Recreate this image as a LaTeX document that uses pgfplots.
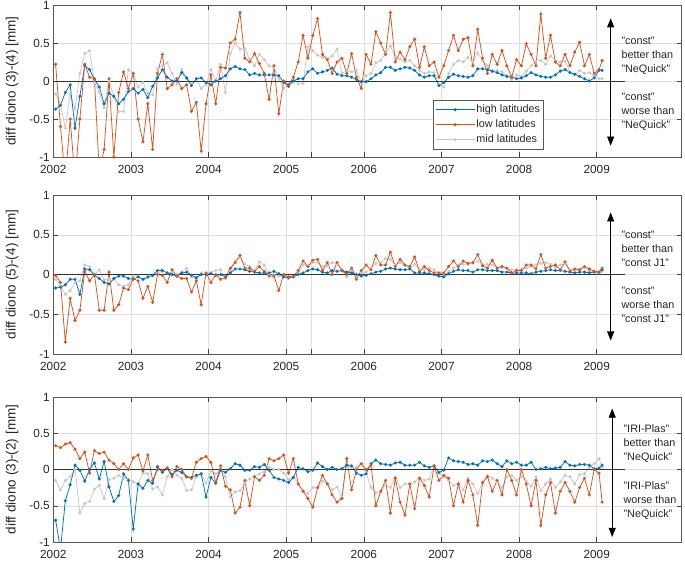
\documentclass[border=0pt]{standalone}
\usepackage{fontspec}
\setmainfont{Liberation Sans}
\usepackage{pgfplots}
\pgfplotsset{compat=1.18}
\usepackage{pgfplotstable}
\usetikzlibrary{arrows.meta}
\definecolor{mblue}{RGB}{0,114,189}
\definecolor{morange}{RGB}{217,83,25}
\definecolor{mgray}{RGB}{200,200,200}
\newcommand{\tickfont}{\fontsize{11.8}{14}\selectfont}
\newcommand{\labfont}{\fontsize{13.5}{16}\selectfont}
\newcommand{\annfont}{\fontsize{10.8}{14}\selectfont}
\newcommand{\legfont}{\fontsize{10.8}{13}\selectfont}

\pgfplotstableread{
x h l m
2002.0300 -0.37 0.22 -0.17
2002.0925 -0.32 -0.6 -0.3
2002.1550 -0.15 -1.3 -0.62
2002.2175 -0.05 -0.5 -0.17
2002.2800 -0.62 -1.3 -0.37
2002.3425 -0.2 -0.5 0.1
2002.4050 0.2 0.22 0.36
2002.4675 0.15 0.05 0.4
2002.5300 0.02 0.03 -0.02
2002.5925 -0.08 -1.2 -0.15
2002.6550 -0.3 -0.9 -0.35
2002.7175 -0.16 0.03 0.0
2002.7800 -0.2 -1.0 -0.2
2002.8425 -0.3 -0.15 -0.4
2002.9050 -0.24 0.12 -0.4
2002.9675 -0.14 -0.1 0.15
2003.0300 -0.1 0.1 0.1
2003.0925 -0.16 -0.5 -0.08
2003.1550 -0.11 -0.8 -0.02
2003.2175 -0.22 -0.3 -0.16
2003.2800 -0.07 -0.9 -0.18
2003.3425 0.04 0.1 0.16
2003.4050 0.15 0.35 0.2
2003.4675 0.05 -0.1 0.24
2003.5300 0.0 -0.05 0.1
2003.5925 0.0 0.03 -0.04
2003.6550 0.11 -0.1 0.15
2003.7175 0.04 -0.05 0.05
2003.7800 -0.06 -0.4 -0.04
2003.8425 0.03 -0.28 0.03
2003.9050 0.04 -0.92 -0.1
2003.9675 -0.02 -0.3 -0.05
2004.0300 -0.05 0.08 0.15
2004.0925 0.0 -0.3 0.0
2004.1550 0.03 0.18 0.22
2004.2175 0.07 0.17 -0.15
2004.2800 0.16 0.5 0.36
2004.3425 0.19 0.55 0.5
2004.4050 0.16 0.9 0.42
2004.4675 0.15 0.3 0.43
2004.5300 0.08 0.25 0.29
2004.5925 0.1 0.36 0.2
2004.6550 0.08 0.23 0.35
2004.7175 0.08 0.1 0.28
2004.7800 0.08 -0.24 0.2
2004.8425 0.08 0.2 0.17
2004.9050 0.07 -0.43 0.03
2004.9675 -0.02 0.0 -0.1
2005.0300 -0.07 -0.05 -0.05
2005.0925 0.0 0.05 0.03
2005.1550 0.03 0.25 -0.04
2005.2175 0.03 0.6 -0.03
2005.2800 0.12 0.3 0.45
2005.3425 0.16 0.6 0.4
2005.4050 0.1 0.82 0.34
2005.4675 0.12 0.35 0.31
2005.5300 0.14 0.28 0.29
2005.5925 0.17 0.1 0.33
2005.6550 0.09 0.25 0.42
2005.7175 0.07 0.3 0.1
2005.7800 0.07 0.1 0.14
2005.8425 0.05 0.36 0.12
2005.9050 0.02 0.05 0.14
2005.9675 -0.01 -0.1 -0.02
2006.0300 -0.01 0.35 0.07
2006.0925 0.03 0.22 0.1
2006.1550 0.08 0.65 0.24
2006.2175 0.11 0.5 0.27
2006.2800 0.18 0.35 0.36
2006.3425 0.18 0.9 0.46
2006.4050 0.14 0.25 0.32
2006.4675 0.16 0.38 0.29
2006.5300 0.18 0.28 0.25
2006.5925 0.17 0.45 0.27
2006.6550 0.14 0.55 0.2
2006.7175 0.08 0.18 0.14
2006.7800 0.05 0.45 0.1
2006.8425 0.07 0.2 0.12
2006.9050 0.07 0.25 0.11
2006.9675 -0.06 0.05 -0.05
2007.0300 -0.02 0.2 -0.08
2007.0925 0.05 0.4 0.1
2007.1550 0.09 0.6 0.22
2007.2175 0.07 0.4 0.27
2007.2800 0.06 0.55 0.25
2007.3425 0.05 0.57 0.31
2007.4050 0.07 0.2 0.25
2007.4675 0.16 0.68 0.37
2007.5300 0.16 0.3 0.27
2007.5925 0.15 0.1 0.2
2007.6550 0.13 0.35 0.12
2007.7175 0.11 0.22 0.14
2007.7800 0.08 0.4 0.12
2007.8425 0.06 0.2 0.07
2007.9050 0.05 0.05 0.02
2007.9675 0.03 0.28 0.08
2008.0300 0.04 0.2 0.06
2008.0925 0.07 0.49 0.13
2008.1550 0.11 0.35 0.2
2008.2175 0.08 0.2 0.26
2008.2800 0.06 0.88 0.27
2008.3425 0.05 0.3 0.22
2008.4050 0.05 0.6 0.33
2008.4675 0.08 0.25 0.27
2008.5300 0.13 0.2 0.25
2008.5925 0.15 0.35 0.26
2008.6550 0.11 0.2 0.12
2008.7175 0.09 0.38 0.08
2008.7800 0.06 0.51 0.14
2008.8425 0.03 0.2 0.1
2008.9050 0.0 0.35 0.11
2008.9675 0.04 0.1 0.06
2009.0300 0.14 0.15 0.03
2009.0700 0.14 0.27 0.03
}\tabA

\pgfplotstableread{
x h l m
2002.0300 -0.17 -0.01 -0.06
2002.0925 -0.16 -0.1 -0.14
2002.1550 -0.13 -0.85 -0.25
2002.2175 -0.06 -0.3 -0.2
2002.2800 -0.06 -0.58 -0.1
2002.3425 -0.25 -0.45 -0.08
2002.4050 0.07 0.04 0.12
2002.4675 0.06 -0.08 0.1
2002.5300 -0.01 0.0 0.0
2002.5925 -0.05 -0.45 0.06
2002.6550 -0.1 -0.45 -0.07
2002.7175 -0.12 0.03 -0.05
2002.7800 -0.05 -0.45 -0.06
2002.8425 -0.02 -0.38 -0.13
2002.9050 -0.02 -0.17 -0.15
2002.9675 -0.05 -0.19 -0.13
2003.0300 -0.06 -0.05 -0.02
2003.0925 -0.03 -0.08 -0.02
2003.1550 -0.06 -0.3 -0.07
2003.2175 -0.03 -0.15 -0.04
2003.2800 -0.01 -0.35 -0.02
2003.3425 0.05 0.0 0.02
2003.4050 0.05 -0.01 0.04
2003.4675 0.02 -0.1 0.02
2003.5300 0.0 0.06 0.03
2003.5925 -0.02 -0.02 0.0
2003.6550 0.02 -0.05 0.03
2003.7175 0.03 -0.05 0.08
2003.7800 -0.01 -0.22 -0.03
2003.8425 -0.04 -0.08 -0.06
2003.9050 0.0 -0.38 0.02
2003.9675 0.0 0.02 0.0
2004.0300 0.01 -0.1 0.03
2004.0925 -0.01 0.0 0.05
2004.1550 0.0 -0.06 0.06
2004.2175 -0.03 -0.04 -0.05
2004.2800 0.02 0.08 0.02
2004.3425 0.07 0.15 0.17
2004.4050 0.07 0.24 0.21
2004.4675 0.06 0.08 0.13
2004.5300 0.04 0.08 0.1
2004.5925 0.03 0.04 0.04
2004.6550 0.02 0.1 0.16
2004.7175 0.02 0.04 0.12
2004.7800 0.02 -0.02 0.0
2004.8425 0.04 -0.02 0.0
2004.9050 0.01 -0.2 -0.02
2004.9675 -0.03 0.0 0.0
2005.0300 -0.04 -0.03 -0.05
2005.0925 -0.03 -0.02 -0.03
2005.1550 0.0 0.05 0.03
2005.2175 0.02 0.17 0.12
2005.2800 0.05 0.1 0.11
2005.3425 0.07 0.18 0.15
2005.4050 0.06 0.19 0.15
2005.4675 0.03 0.05 0.1
2005.5300 0.02 0.15 0.11
2005.5925 0.05 0.0 0.15
2005.6550 0.04 0.15 0.13
2005.7175 0.05 0.05 0.06
2005.7800 0.03 0.0 -0.03
2005.8425 0.02 0.08 0.07
2005.9050 0.0 -0.06 0.0
2005.9675 -0.02 0.05 0.02
2006.0300 -0.01 0.12 0.03
2006.0925 0.01 0.06 0.08
2006.1550 0.03 0.24 0.14
2006.2175 0.04 0.12 0.15
2006.2800 0.07 0.12 0.2
2006.3425 0.08 0.28 0.19
2006.4050 0.07 0.1 0.12
2006.4675 0.06 0.19 0.15
2006.5300 0.06 0.12 0.11
2006.5925 0.07 0.1 0.08
2006.6550 0.02 0.22 0.13
2006.7175 0.02 0.04 0.06
2006.7800 0.02 0.1 0.06
2006.8425 0.01 0.05 0.08
2006.9050 0.0 0.02 0.06
2006.9675 -0.02 0.02 0.02
2007.0300 -0.03 0.02 -0.01
2007.0925 0.01 0.1 0.04
2007.1550 0.04 0.17 0.08
2007.2175 0.06 0.1 0.12
2007.2800 0.05 0.17 0.13
2007.3425 0.05 0.14 0.13
2007.4050 0.03 0.15 0.14
2007.4675 0.06 0.25 0.17
2007.5300 0.06 0.11 0.13
2007.5925 0.05 0.08 0.13
2007.6550 0.05 0.18 0.12
2007.7175 0.05 0.08 0.08
2007.7800 0.03 0.1 0.09
2007.8425 0.03 0.08 0.08
2007.9050 0.02 0.02 0.06
2007.9675 0.02 0.05 0.06
2008.0300 0.02 0.05 0.07
2008.0925 0.02 0.12 0.08
2008.1550 0.01 0.12 0.1
2008.2175 0.03 0.07 0.12
2008.2800 0.04 0.25 0.14
2008.3425 0.05 0.08 0.15
2008.4050 0.06 0.1 0.13
2008.4675 0.05 0.12 0.09
2008.5300 0.05 0.06 0.12
2008.5925 0.04 0.16 0.14
2008.6550 0.03 0.04 0.06
2008.7175 0.02 0.07 0.05
2008.7800 0.03 0.06 0.06
2008.8425 0.03 0.1 0.09
2008.9050 0.02 0.07 0.04
2008.9675 0.03 0.04 0.03
2009.0300 0.03 0.03 0.02
2009.0700 0.06 0.08 0.04
}\tabB

\pgfplotstableread{
x h l m
2002.0300 -0.7 0.33 -0.15
2002.0925 -1.1 0.3 -0.28
2002.1550 -0.43 0.35 -0.15
2002.2175 -0.21 0.37 -0.1
2002.2800 0.06 0.28 0.0
2002.3425 -0.01 0.15 -0.6
2002.4050 -0.16 0.24 -0.47
2002.4675 0.0 -0.05 -0.44
2002.5300 0.09 0.26 -0.27
2002.5925 -0.13 0.22 -0.22
2002.6550 0.11 0.24 -0.4
2002.7175 -0.24 0.13 -0.14
2002.7800 -0.44 0.08 -0.12
2002.8425 -0.36 0.0 -0.08
2002.9050 -0.06 0.08 -0.12
2002.9675 -0.15 0.0 -0.13
2003.0300 -0.82 0.16 -0.17
2003.0925 -0.2 0.2 -0.2
2003.1550 -0.26 -0.02 -0.05
2003.2175 -0.15 0.2 -0.06
2003.2800 -0.19 -0.15 -0.27
2003.3425 0.04 0.0 -0.24
2003.4050 -0.04 -0.01 -0.35
2003.4675 0.02 0.02 -0.1
2003.5300 -0.07 -0.1 0.0
2003.5925 -0.01 0.04 -0.08
2003.6550 -0.04 0.0 -0.12
2003.7175 -0.1 -0.1 -0.29
2003.7800 -0.11 -0.12 -0.28
2003.8425 -0.08 0.1 -0.1
2003.9050 -0.06 0.15 -0.05
2003.9675 -0.38 0.18 -0.19
2004.0300 -0.11 0.1 -0.02
2004.0925 -0.19 -0.18 -0.06
2004.1550 -0.01 0.05 -0.01
2004.2175 -0.04 -0.23 -0.1
2004.2800 0.01 -0.28 -0.38
2004.3425 0.08 -0.6 -0.31
2004.4050 0.06 -0.52 -0.29
2004.4675 -0.01 -0.15 -0.18
2004.5300 -0.01 -0.5 -0.13
2004.5925 0.04 -0.1 -0.09
2004.6550 0.03 -0.15 -0.06
2004.7175 0.07 -0.08 -0.03
2004.7800 -0.01 0.15 0.03
2004.8425 -0.11 0.12 0.0
2004.9050 -0.13 0.15 0.0
2004.9675 -0.15 0.2 -0.05
2005.0300 -0.18 -0.05 -0.14
2005.0925 -0.11 0.15 -0.1
2005.1550 0.03 -0.2 -0.2
2005.2175 0.01 -0.3 -0.29
2005.2800 -0.03 -0.4 -0.33
2005.3425 -0.01 -0.52 -0.25
2005.4050 0.09 -0.25 -0.26
2005.4675 0.04 -0.08 -0.16
2005.5300 0.0 -0.2 -0.2
2005.5925 0.03 -0.35 -0.28
2005.6550 0.0 -0.45 -0.24
2005.7175 0.01 -0.4 -0.38
2005.7800 0.06 0.15 0.08
2005.8425 0.05 -0.28 0.03
2005.9050 -0.05 0.0 0.03
2005.9675 -0.08 0.08 0.08
2006.0300 -0.06 0.0 -0.05
2006.0925 0.08 0.06 -0.25
2006.1550 0.13 -0.5 -0.32
2006.2175 0.08 -0.3 -0.32
2006.2800 0.07 -0.15 -0.2
2006.3425 0.06 -0.6 -0.25
2006.4050 0.09 -0.12 -0.1
2006.4675 0.1 -0.45 -0.25
2006.5300 0.06 -0.63 -0.2
2006.5925 0.06 -0.2 -0.2
2006.6550 0.06 -0.54 -0.17
2006.7175 0.1 -0.12 -0.11
2006.7800 0.05 -0.22 -0.15
2006.8425 0.03 -0.38 -0.13
2006.9050 0.05 0.05 0.05
2006.9675 -0.04 -0.15 -0.05
2007.0300 -0.01 -0.08 -0.1
2007.0925 0.16 -0.12 -0.15
2007.1550 0.12 -0.5 -0.22
2007.2175 0.11 -0.2 -0.19
2007.2800 0.1 -0.45 -0.28
2007.3425 0.07 -0.15 -0.12
2007.4050 0.08 -0.35 -0.2
2007.4675 0.06 -0.77 -0.33
2007.5300 0.12 -0.18 -0.18
2007.5925 0.11 -0.1 -0.08
2007.6550 0.13 -0.3 -0.12
2007.7175 0.08 -0.15 -0.17
2007.7800 0.04 -0.35 -0.25
2007.8425 0.12 0.0 -0.1
2007.9050 0.08 -0.15 -0.08
2007.9675 0.1 -0.35 -0.15
2008.0300 0.06 0.0 -0.1
2008.0925 0.06 -0.2 -0.16
2008.1550 0.1 -0.5 -0.23
2008.2175 0.0 -0.15 -0.1
2008.2800 0.01 -0.77 -0.29
2008.3425 0.03 -0.35 -0.2
2008.4050 0.01 -0.18 -0.13
2008.4675 0.02 -0.6 -0.25
2008.5300 0.03 -0.3 -0.17
2008.5925 0.11 -0.18 -0.08
2008.6550 0.06 -0.3 -0.1
2008.7175 0.05 -0.45 -0.2
2008.7800 0.07 -0.25 -0.07
2008.8425 0.07 -0.12 -0.06
2008.9050 0.06 -0.35 0.03
2008.9675 0.01 0.0 0.08
2009.0300 0.02 -0.05 0.15
2009.0700 0.06 -0.45 0.03
}\tabC

\tikzset{
  arr/.style={black, line width=0.6pt, {Triangle[width=7pt,length=9pt]}-{Triangle[width=7pt,length=9pt]}},
  ann/.style={font=\annfont, text=black!85, anchor=west, align=left},
}
\pgfplotsset{
  panel/.style={
    scale only axis, width=628.4pt,
    xmin=2002, xmax=2010.095, ymin=-1, ymax=1,
    xtick={2002,2003,2004,2005,2006,2007,2008,2009},
    xticklabels={2002,2003,2004,2005,2006,2007,2008,2009},
    extra x ticks={2005.32}, extra x tick labels={},
    extra x tick style={grid=major},
    ytick={-1,-0.5,0,0.5,1}, yticklabels={-1,-0.5,0,0.5,1},
    grid=major, major grid style={draw=black!13, line width=0.5pt},
    tick align=inside, major tick length=5pt,
    tick style={draw=black!75, line width=0.5pt},
    axis line style={draw=black!65, line width=0.6pt},
    ticklabel style={font=\tickfont, text=black!85},
    xticklabel style={yshift=-4.5pt},
    ylabel style={font=\labfont, text=black!85, at={(axis description cs:-0.0657,0.5)}, anchor=center},
  },
  hi/.style={color=mblue, line width=0.75pt, mark=*, mark size=1.15pt},
  lo/.style={color=morange, line width=0.75pt, mark=*, mark size=1.15pt},
  mid/.style={color=mgray, line width=0.75pt, mark=*, mark size=1.15pt},
  zero/.style={black!80, line width=0.8pt, forget plot},
}

\begin{document}
\begin{tikzpicture}
\useasboundingbox (0,0) rectangle (685pt,-562pt);

\begin{axis}[panel, height=152pt, at={(53.3pt,-5pt)}, anchor=north west,
  ylabel={diff diono (3)-(4) [mm]},
  legend style={at={(axis description cs:0.6042,0.375)}, anchor=north west, draw=black!65, line width=0.5pt, fill=white, font=\legfont, text=black!85, inner xsep=2pt, inner ysep=2pt, row sep=0pt, nodes={inner sep=1.5pt, text height=9pt, text depth=3pt}},
  legend cell align=left,
  legend image code/.code={\draw[mark repeat=2,mark phase=2,#1] plot coordinates {(0pt,0pt) (19.5pt,0pt) (39pt,0pt)};}]
\addlegendimage{hi}\addlegendentry{high latitudes}
\addlegendimage{lo}\addlegendentry{low latitudes}
\addlegendimage{mid}\addlegendentry{mid latitudes}
\addplot[mid, forget plot] table[x=x,y=m] {\tabA};
\addplot[hi, forget plot] table[x=x,y=h] {\tabA};
\addplot[lo, forget plot] table[x=x,y=l] {\tabA};
\addplot[zero] coordinates {(2002,0) (2009.37,0)};
\draw[arr] (axis cs:2009.18,0.825) -- (axis cs:2009.18,-0.85);
\node[ann] at (axis description cs:0.8987,0.664) {"const"\\better than\\"NeQuick"};
\node[ann] at (axis description cs:0.8987,0.300) {"const"\\worse than\\"NeQuick"};
\end{axis}

\begin{axis}[panel, height=159pt, at={(53.3pt,-195pt)}, anchor=north west,
  ylabel={diff diono (5)-(4) [mm]}]
\addplot[mid] table[x=x,y=m] {\tabB};
\addplot[hi] table[x=x,y=h] {\tabB};
\addplot[lo] table[x=x,y=l] {\tabB};
\addplot[zero] coordinates {(2002,0) (2009.37,0)};
\draw[arr] (axis cs:2009.18,0.78) -- (axis cs:2009.18,-0.83);
\node[ann] at (axis description cs:0.8987,0.660) {"const"\\better than\\"const J1"};
\node[ann] at (axis description cs:0.8987,0.308) {"const"\\worse than\\"const J1"};
\end{axis}

\begin{axis}[panel, height=145pt, at={(53.3pt,-397pt)}, anchor=north west,
  ylabel={diff diono (3)-(2) [mm]}]
\addplot[mid] table[x=x,y=m] {\tabC};
\addplot[hi] table[x=x,y=h] {\tabC};
\addplot[lo] table[x=x,y=l] {\tabC};
\addplot[zero] coordinates {(2002,0) (2009.37,0)};
\draw[arr] (axis cs:2009.2,0.84) -- (axis cs:2009.2,-0.93);
\node[ann] at (axis description cs:0.902,0.676) {"IRI-Plas"\\better than\\"NeQuick"};
\node[ann] at (axis description cs:0.902,0.283) {"IRI-Plas"\\worse than\\"NeQuick"};
\end{axis}
\end{tikzpicture}
\end{document}
